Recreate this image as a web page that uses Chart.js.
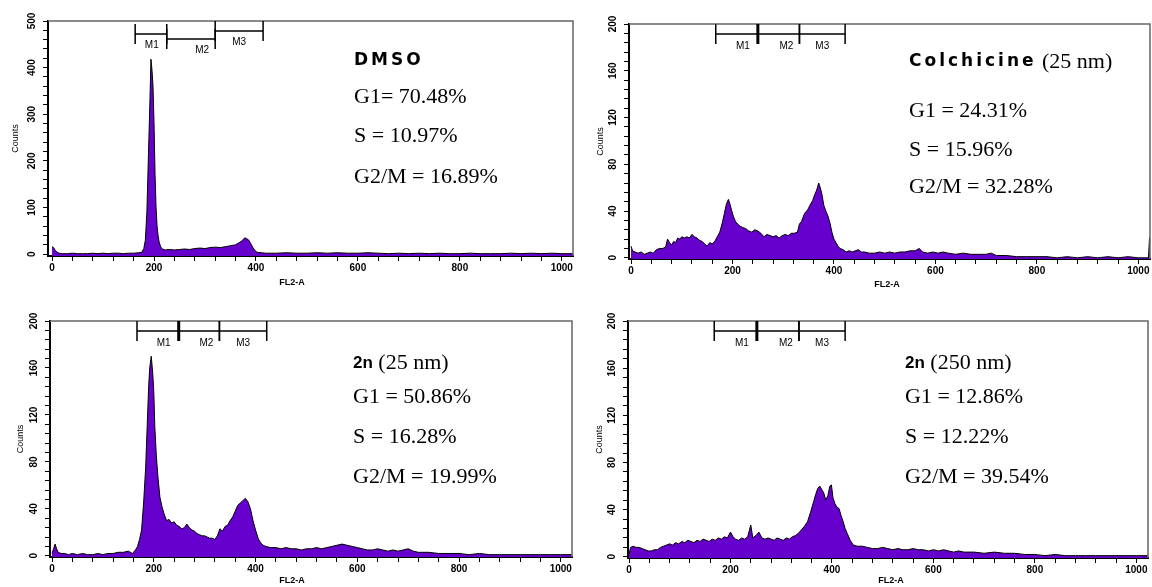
<!DOCTYPE html>
<html>
<head>
<meta charset="utf-8">
<script src="https://cdn.jsdelivr.net/npm/chart.js@4/dist/chart.umd.min.js"></script>
<style>
body{margin:0;background:#fff;width:1152px;height:587px;overflow:hidden;position:relative}
canvas{position:absolute}
</style>
</head>
<body>
<canvas id="c1" width="576" height="292" style="left:0;top:0"></canvas>
<canvas id="c2" width="576" height="292" style="left:576px;top:0"></canvas>
<canvas id="c3" width="576" height="294" style="left:0;top:293px"></canvas>
<canvas id="c4" width="576" height="294" style="left:576px;top:293px"></canvas>
<script>
// FL2-A channel / counts
var dmsoCh = [0,3,6,10,14,20,30,40,50,60,70,80,90,100,110,120,130,140,150,160,170,176,180,183,186,188,190,192,194,196,198,200,202,204,206,208,210,213,216,222,230,240,250,260,270,280,290,300,310,320,330,340,350,360,366,372,378,382,386,390,394,398,402,410,420,440,460,480,500,520,540,560,580,600,620,640,660,680,700,720,740,760,780,800,820,840,860,880,900,920,940,960,980,1000,1023];
var dmsoCounts = [16,14,8,4,2,1,1,2,1,1,1,2,1,2,1,2,2,1,2,2,3,4,12,30,90,170,250,330,418,395,360,280,170,100,60,40,26,16,11,9,10,9,10,11,10,12,13,12,14,15,14,16,18,20,24,28,35,33,30,22,14,8,4,3,2,2,3,2,2,3,2,3,2,2,3,2,1,2,1,2,1,2,1,1,2,1,1,1,2,1,2,1,2,1,1];

var colchCh = [0,3,8,14,20,26,32,38,44,50,56,62,68,72,76,80,84,88,92,96,100,105,110,115,120,125,130,135,140,145,150,155,160,165,170,175,180,184,188,192,195,198,202,206,210,215,220,226,232,238,244,250,256,262,268,274,280,286,292,298,304,310,316,322,328,332,336,342,348,354,358,362,366,370,373,376,380,384,388,392,396,400,404,408,412,418,424,430,436,442,448,454,460,470,480,490,500,510,520,530,540,550,560,568,575,585,595,605,615,625,640,655,670,685,700,710,720,740,760,780,800,820,840,860,880,900,920,940,960,980,1000,1020,1021,1022,1023];
var colchCounts = [10,6,5,4,5,3,4,5,4,7,8,8,9,16,13,11,14,13,17,16,18,17,18,17,20,18,17,15,14,12,10,13,12,14,18,22,30,38,46,50,46,41,35,31,29,27,26,25,23,22,24,23,21,18,20,19,18,19,17,19,20,19,21,21,22,29,31,38,41,46,49,54,58,64,60,55,45,40,36,30,22,16,13,10,8,7,5,6,5,6,7,5,5,4,4,5,4,5,4,5,5,6,6,8,5,4,5,4,5,4,3,4,3,3,3,4,2,2,1,1,1,1,0,1,0,1,0,1,0,1,0,0,0,17,17];

var n25Ch = [0,3,6,9,12,18,25,32,40,50,60,70,80,90,100,110,120,130,140,150,158,164,168,172,176,180,184,187,190,192,195,198,200,202,205,208,212,216,220,225,230,235,240,245,250,255,260,265,270,275,280,285,290,295,300,305,310,315,320,325,330,335,340,345,350,355,360,365,370,375,380,385,390,395,400,405,410,415,420,430,440,450,460,470,480,490,500,510,520,530,540,550,560,570,580,590,600,610,620,630,640,650,660,670,680,690,700,710,720,740,760,780,800,820,840,860,880,900,920,940,960,980,1000,1023];
var n25Counts = [2,6,10,6,3,2,2,1,2,1,2,1,1,2,1,2,2,3,3,4,2,5,8,14,22,45,75,110,145,160,170,155,140,110,85,68,50,42,36,30,31,28,29,26,25,23,24,27,24,22,21,19,18,17,17,16,15,15,14,17,23,21,25,26,30,33,38,43,45,47,49,46,40,30,22,15,11,9,8,7,7,6,7,6,6,5,6,6,7,6,7,8,9,10,9,8,7,6,5,5,6,5,4,5,4,5,6,4,3,3,2,2,2,1,2,1,1,1,1,1,1,1,1,1];

var n250Ch = [0,3,8,14,20,26,32,38,44,50,56,62,68,74,80,86,92,98,104,110,116,122,128,134,140,146,152,158,164,170,176,182,188,194,200,205,210,216,222,228,234,240,244,250,256,262,268,274,280,286,292,298,304,310,316,322,328,334,340,346,352,358,364,368,372,376,380,384,388,392,396,399,402,406,410,414,418,422,426,430,436,442,450,460,470,480,490,500,510,520,530,540,550,560,570,580,590,600,610,620,630,640,650,660,680,700,720,740,760,780,800,820,840,860,880,900,920,940,960,980,1000,1023];
var n250Counts = [2,8,9,8,8,7,6,5,5,6,6,8,9,10,11,10,12,11,13,12,14,13,12,14,13,15,14,13,15,14,16,15,17,16,21,17,15,14,16,15,17,27,16,18,21,16,15,16,15,14,16,15,14,16,15,17,18,20,23,26,30,38,47,53,58,60,57,54,48,52,60,61,50,45,42,41,35,30,24,20,14,10,9,9,8,7,7,8,7,6,7,6,6,7,6,6,5,6,5,6,5,4,5,4,4,3,4,3,3,2,2,1,2,1,1,1,1,1,1,1,1,1];

var xTickStep = 40;
var xLabels = [0, 200, 400, 600, 800, 1000];
var gateNames = ['M1', 'M2', 'M3'];

var tickFont = {family: '"Liberation Sans Narrow", "Liberation Sans"', size: 10, weight: 'bold'};

var facsPlugin = {
  id: 'facs',
  afterDraw: function(chart, args, o) {
    var c = chart.ctx, a = chart.chartArea, xs = chart.scales.x;
    c.save();
    c.strokeStyle = '#666';
    c.lineWidth = 1.5;
    c.beginPath();
    c.moveTo(a.left, a.top); c.lineTo(a.right, a.top); c.lineTo(a.right, a.bottom);
    c.stroke();

    // marker gates
    c.strokeStyle = '#000';
    c.fillStyle = '#000';
    c.lineWidth = 1.5;
    c.font = '10px "Liberation Sans Narrow", "Liberation Sans"';
    c.textAlign = 'center';
    c.textBaseline = 'middle';
    for (var i = 0; i < 3; i++) {
      var x0 = xs.getPixelForValue(o.gates[i]), x1 = xs.getPixelForValue(o.gates[i + 1]);
      var y = a.top + o.levels[i];
      c.beginPath();
      c.moveTo(x0, y); c.lineTo(x1, y);
      c.moveTo(x0, y - 10); c.lineTo(x0, y + 10);
      c.moveTo(x1, y - 10); c.lineTo(x1, y + 10);
      c.stroke();
      var lx = i == 2 ? (x0 + x1) / 2 : x1 - (i == 0 ? 15 : 13);
      c.fillText(gateNames[i], lx, y + o.labelDy);
    }
    if (o.thick) {
      var xm = xs.getPixelForValue(o.gates[1]);
      c.lineWidth = 3;
      c.beginPath(); c.moveTo(xm, a.top); c.lineTo(xm, a.top + 20); c.stroke();
    }

    // x axis title
    c.font = 'bold 9px "Liberation Sans"';
    c.fillText('FL2-A', a.left + o.flX, a.bottom + o.flY);

    // heading and percentages
    c.textAlign = 'left';
    var x = o.textX;
    o.head.forEach(function(r) {
      c.font = r[1];
      c.letterSpacing = r[2] + 'px';
      c.fillText(r[0], x, o.textY[0]);
      x += c.measureText(r[0]).width;
    });
    c.letterSpacing = '0px';
    c.font = '22px "Liberation Serif"';
    o.lines.forEach(function(t, k) { c.fillText(t, o.textX, o.textY[k + 1]); });
    c.restore();
  }
};

function panel(id, o) {
  var cv = document.getElementById(id);
  var ar = o.area;
  var xt = [];
  for (var v = 0; v <= 1000; v += xTickStep) xt.push({value: v});
  var yt = [];
  for (var v = 0; v <= o.ymax; v += o.yStep) yt.push({value: v});
  return new Chart(cv.getContext('2d'), {
    type: 'line',
    data: {
      datasets: [{
        data: o.ch.map(function(c, i) { return {x: c, y: o.counts[i]}; }),
        fill: 'start',
        backgroundColor: '#6600cc',
        borderColor: '#000',
        borderWidth: 1,
        pointRadius: 0,
        tension: 0
      }]
    },
    options: {
      responsive: false,
      animation: false,
      devicePixelRatio: 1,
      layout: {padding: {left: 0, top: ar[1], right: cv.width - ar[2], bottom: 0}},
      plugins: {legend: {display: false}, tooltip: {enabled: false}, facs: o},
      scales: {
        x: {
          type: 'linear', min: o.xmin, max: o.xmax,
          afterFit: function(s) { s.height = cv.height - ar[3]; },
          afterBuildTicks: function(s) { s.ticks = xt.slice(); },
          ticks: {autoSkip: false, maxRotation: 0, padding: 1, color: '#000', font: tickFont,
            callback: function(v) { return xLabels.indexOf(v) >= 0 ? String(v) : ''; }},
          grid: {drawOnChartArea: false, tickLength: 5, color: '#000'},
          border: {color: '#000', width: 2}
        },
        y: {
          type: 'linear', min: o.ymin, max: o.ymax,
          afterFit: function(s) { s.width = ar[0]; },
          afterBuildTicks: function(s) { s.ticks = yt.slice(); },
          ticks: {autoSkip: false, minRotation: 90, maxRotation: 90, crossAlign: 'center', padding: 2,
            color: '#000', font: tickFont,
            callback: function(v) { return v % o.yLabelStep === 0 ? String(v) : ''; }},
          grid: {drawOnChartArea: false, tickLength: 5, color: '#000'},
          border: {color: '#000', width: 2},
          title: {display: true, text: 'Counts', color: '#000', padding: {top: o.countsPad, bottom: 0},
            font: {family: '"Liberation Sans"', size: 9}}
        }
      }
    },
    plugins: [facsPlugin]
  });
}

var headFont = 'bold 17px "DejaVu Sans"';
var serifFont = '22px "Liberation Serif"';

panel('c1', {
  ch: dmsoCh, counts: dmsoCounts, area: [48, 21, 573, 256],
  xmin: -8, xmax: 1022, ymin: -4, ymax: 500, yStep: 20, yLabelStep: 100, countsPad: 10,
  gates: [163, 225, 320, 414], levels: [13, 18, 10], labelDy: 11, thick: false,
  flX: 244, flY: 27,
  textX: 354, textY: [61, 97, 136, 177],
  head: [['DMSO', headFont, 3]],
  lines: ['G1= 70.48%', 'S = 10.97%', 'G2/M = 16.89%']
});

panel('c2', {
  ch: colchCh, counts: colchCounts, area: [53, 24, 574, 259],
  xmin: -4, xmax: 1023, ymin: -1, ymax: 200, yStep: 8, yLabelStep: 40, countsPad: 19,
  gates: [167, 250, 332, 422], levels: [10, 10, 10], labelDy: 12, thick: true,
  flX: 258, flY: 26,
  textX: 333, textY: [62, 111, 150, 187],
  head: [['Colchicine', headFont, 3], [' (25 nm)', serifFont, 0]],
  lines: ['G1 = 24.31%', 'S = 15.96%', 'G2/M = 32.28%']
});

panel('c3', {
  ch: n25Ch, counts: n25Counts, area: [50, 28, 572, 264],
  xmin: -4, xmax: 1022, ymin: -1, ymax: 200, yStep: 8, yLabelStep: 40, countsPad: 15,
  gates: [167, 249, 329, 422], levels: [10, 10, 10], labelDy: 12, thick: true,
  flX: 242, flY: 24,
  textX: 353, textY: [70, 104, 144, 184],
  head: [['2n', 'bold 17px "Liberation Sans"', 0], [' (25 nm)', serifFont, 0]],
  lines: ['G1 = 50.86%', 'S = 16.28%', 'G2/M = 19.99%']
});

panel('c4', {
  ch: n250Ch, counts: n250Counts, area: [52, 28, 572, 265],
  xmin: -2, xmax: 1023, ymin: -1, ymax: 200, yStep: 8, yLabelStep: 40, countsPad: 18,
  gates: [168, 252, 335, 426], levels: [10, 10, 10], labelDy: 12, thick: true,
  flX: 263, flY: 23,
  textX: 329, textY: [70, 104, 144, 184],
  head: [['2n', 'bold 17px "Liberation Sans"', 0], [' (250 nm)', serifFont, 0]],
  lines: ['G1 = 12.86%', 'S = 12.22%', 'G2/M = 39.54%']
});
</script>
</body>
</html>
